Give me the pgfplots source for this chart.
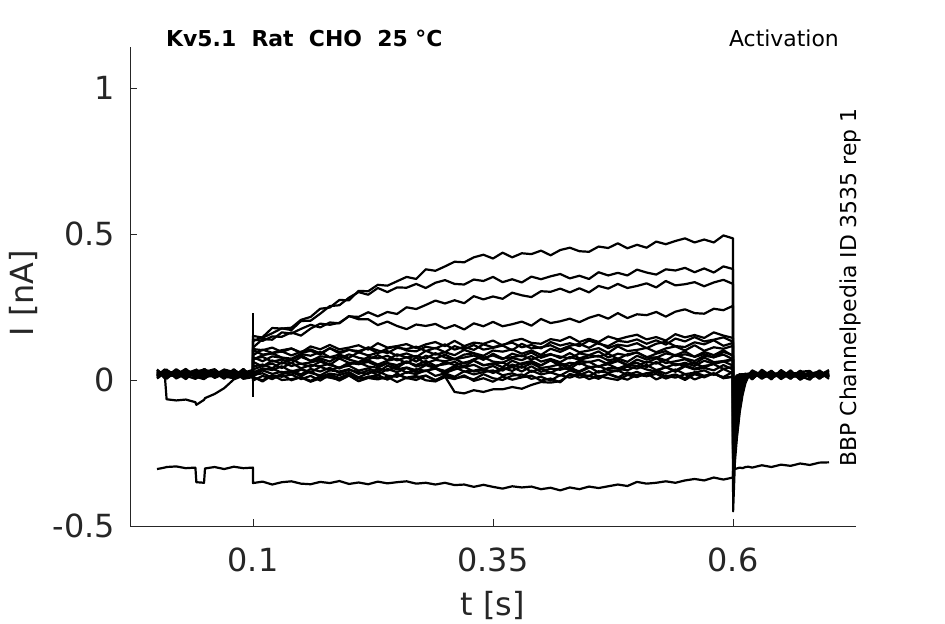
\documentclass[border=0pt]{standalone}
\usepackage{pgfplots}
\pgfplotsset{compat=1.18}
\usepackage{pgfplotstable}
\usepackage{fontspec}
\setmainfont{DejaVu Sans}
\definecolor{axgray}{HTML}{262626}

\pgfplotstableread{
t A B C D E F G H I J K L M N O P Q R V W X
0      0.025 0.018 0.022 0.030 0.015 0.027 0.020 0.012 0.028 0.019 0.024 0.016 0.021 0.020 -0.305 0.008 0.034 0.014 0.030 0.005 0.036
0.008  0.020 0.026 0.015 0.022 0.029 0.018 0.024 0.030 0.017 0.023 0.013 0.027 0.019 0.022 -0.300 0.031 0.006 0.036 0.010 0.024 0.013
0.01   0.028 0.015 0.024 0.018 0.022 0.031 0.014 0.020 0.025 0.012 0.026 0.021 0.017 -0.066 -0.298 0.036 0.011 0.027 0.004 0.033 0.007
0.02   0.017 0.024 0.029 0.013 0.020 0.016 0.027 0.023 0.014 0.030 0.018 0.011 0.025 -0.070 -0.296 0.005 0.037 0.009 0.033 0.018 0.025
0.03   0.024 0.012 0.019 0.027 0.016 0.023 0.018 0.029 0.021 0.015 0.028 0.020 0.013 -0.067 -0.302 0.022 0.015 0.035 0.006 0.038 0.003
0.04   0.015 0.027 0.021 0.020 0.028 0.012 0.025 0.016 0.026 0.022 0.014 0.029 0.018 -0.076 -0.300 0.034 0.004 0.019 0.029 0.008 0.032
0.041  0.022 0.019 0.026 0.014 0.021 0.025 0.017 0.024 0.013 0.027 0.020 0.016 0.023 -0.085 -0.350 0.010 0.030 0.005 0.036 0.022 0.014
0.049  0.027 0.014 0.018 0.025 0.013 0.020 0.029 0.015 0.022 0.018 0.025 0.012 0.028 -0.068 -0.352 0.003 0.035 0.032 0.012 0.037 0.006
0.05   0.019 0.023 0.027 0.016 0.024 0.014 0.021 0.028 0.019 0.013 0.022 0.026 0.015 -0.062 -0.303 0.028 0.009 0.037 0.005 0.016 0.034
0.06   0.013 0.028 0.016 0.023 0.019 0.027 0.012 0.022 0.029 0.024 0.017 0.021 0.026 -0.048 -0.298 0.037 0.018 0.007 0.031 0.011 0.026
0.07   0.026 0.017 0.022 0.029 0.014 0.021 0.025 0.013 0.018 0.027 0.023 0.015 0.020 -0.028 -0.305 0.012 0.036 0.021 0.009 0.032 0.004
0.08   0.018 0.025 0.013 0.020 0.027 0.016 0.019 0.026 0.023 0.015 0.029 0.022 0.014 0.002 -0.297 0.006 0.027 0.034 0.013 0.003 0.037
0.09   0.023 0.013 0.028 0.015 0.021 0.024 0.027 0.018 0.012 0.020 0.016 0.028 0.025 0.015 -0.302 0.033 0.004 0.017 0.038 0.024 0.009
0.0999 0.020 0.022 0.017 0.026 0.018 0.013 0.022 0.025 0.027 0.016 0.021 0.019 0.023 0.015 -0.300 0.021 0.010 0.030 0.006 0.035 0.019
0.10 0.133 0.151 0.139 0.111 0.106 0.102 0.069 0.073 0.062 0.036 0.025 0.012 0.008 0.011 -0.353 -0.002 0.017 0.020 0.046 0.078 0.085
0.11 0.147 0.145 0.134 0.140 0.102 0.087 0.085 0.079 0.046 0.048 0.040 0.033 -0.001 -0.005 -0.348 0.014 0.023 0.035 0.053 0.064 0.104
0.12 0.178 0.160 0.149 0.138 0.111 0.091 0.091 0.063 0.067 0.056 0.034 0.021 0.016 0.016 -0.358 0.003 0.008 0.039 0.040 0.081 0.093
0.13 0.176 0.177 0.148 0.163 0.096 0.098 0.077 0.070 0.056 0.041 0.047 0.028 0.011 0.000 -0.350 0.019 0.020 0.025 0.061 0.076 0.102
0.14 0.179 0.171 0.163 0.159 0.108 0.084 0.073 0.058 0.071 0.059 0.029 0.018 0.019 0.003 -0.347 -0.001 0.028 0.032 0.048 0.069 0.108
0.15 0.206 0.202 0.152 0.175 0.094 0.097 0.089 0.079 0.055 0.040 0.038 0.036 0.003 0.009 -0.355 0.010 0.013 0.019 0.056 0.085 0.092
0.16 0.216 0.203 0.176 0.189 0.115 0.105 0.083 0.066 0.060 0.051 0.026 0.024 0.014 -0.006 -0.357 -0.003 0.030 0.038 0.045 0.065 0.100
0.17 0.244 0.227 0.193 0.180 0.105 0.091 0.096 0.074 0.068 0.047 0.045 0.016 -0.002 0.006 -0.349 0.013 0.011 0.029 0.063 0.081 0.087
0.18 0.248 0.253 0.189 0.197 0.120 0.109 0.078 0.063 0.052 0.056 0.034 0.033 0.018 0.013 -0.353 0.008 0.022 0.042 0.051 0.078 0.109
0.19 0.274 0.256 0.196 0.194 0.105 0.091 0.087 0.082 0.074 0.039 0.043 0.029 0.007 -0.002 -0.346 0.001 0.017 0.024 0.042 0.073 0.096
0.20 0.273 0.282 0.218 0.219 0.111 0.103 0.076 0.070 0.058 0.054 0.049 0.037 0.021 0.015 -0.356 0.017 0.027 0.035 0.059 0.088 0.104
0.21 0.305 0.301 0.216 0.208 0.119 0.099 0.095 0.061 0.061 0.060 0.032 0.021 0.005 -0.004 -0.351 -0.004 0.009 0.027 0.054 0.076 0.094
0.22 0.304 0.292 0.232 0.208 0.104 0.109 0.084 0.079 0.068 0.046 0.040 0.033 0.010 0.007 -0.357 0.012 0.024 0.021 0.062 0.070 0.112
0.23 0.326 0.315 0.218 0.188 0.126 0.092 0.093 0.074 0.053 0.042 0.027 0.017 0.017 0.002 -0.348 0.009 0.030 0.039 0.047 0.085 0.101
0.24 0.323 0.301 0.233 0.200 0.111 0.108 0.099 0.083 0.066 0.058 0.049 0.038 0.001 0.011 -0.354 0.003 0.015 0.032 0.058 0.068 0.092
0.25 0.338 0.317 0.226 0.185 0.116 0.115 0.083 0.067 0.073 0.051 0.036 0.027 0.022 -0.007 -0.350 0.019 0.011 0.045 0.042 0.088 0.110
0.26 0.353 0.316 0.249 0.174 0.123 0.101 0.091 0.078 0.058 0.064 0.043 0.041 0.006 0.008 -0.347 0.007 0.027 0.024 0.062 0.077 0.106
0.27 0.346 0.329 0.243 0.190 0.109 0.098 0.078 0.063 0.076 0.046 0.033 0.026 0.009 0.014 -0.355 0.000 0.020 0.037 0.051 0.082 0.114
0.28 0.379 0.315 0.257 0.185 0.122 0.114 0.100 0.083 0.057 0.055 0.051 0.031 0.015 -0.001 -0.352 0.015 0.033 0.031 0.065 0.073 0.099
0.29 0.374 0.333 0.272 0.192 0.130 0.108 0.087 0.073 0.069 0.044 0.040 0.039 0.000 -0.005 -0.358 -0.002 0.014 0.042 0.049 0.092 0.110
0.30 0.389 0.342 0.262 0.176 0.116 0.122 0.095 0.087 0.064 0.062 0.031 0.023 0.012 0.010 -0.352 0.017 0.023 0.024 0.054 0.077 0.095
0.31 0.405 0.329 0.273 0.188 0.134 0.104 0.085 0.071 0.073 0.051 0.048 0.044 -0.041 0.003 -0.360 0.006 0.011 0.036 0.062 0.071 0.116
0.32 0.403 0.327 0.263 0.173 0.116 0.114 0.103 0.077 0.056 0.060 0.044 0.029 -0.046 0.016 -0.358 0.011 0.030 0.045 0.046 0.087 0.105
0.33 0.420 0.344 0.287 0.194 0.128 0.103 0.092 0.084 0.071 0.066 0.052 0.032 -0.035 -0.003 -0.366 0.002 0.019 0.029 0.067 0.091 0.120
0.34 0.429 0.339 0.276 0.184 0.124 0.122 0.083 0.069 0.078 0.050 0.037 0.039 -0.041 0.006 -0.359 0.020 0.027 0.034 0.051 0.076 0.104
0.35 0.416 0.353 0.286 0.199 0.135 0.112 0.101 0.090 0.063 0.057 0.048 0.024 -0.032 -0.006 -0.366 0.006 0.033 0.026 0.054 0.084 0.110
0.36 0.436 0.335 0.278 0.184 0.118 0.121 0.097 0.074 0.059 0.044 0.032 0.036 -0.032 0.012 -0.372 0.000 0.016 0.042 0.060 0.071 0.118
0.37 0.420 0.345 0.299 0.191 0.134 0.128 0.105 0.078 0.075 0.066 0.053 0.044 -0.024 0.001 -0.364 0.015 0.023 0.031 0.045 0.090 0.102
0.38 0.434 0.334 0.290 0.200 0.141 0.112 0.090 0.084 0.068 0.053 0.042 0.029 -0.030 0.009 -0.368 0.019 0.011 0.048 0.057 0.081 0.124
0.39 0.431 0.354 0.284 0.186 0.127 0.120 0.101 0.070 0.082 0.061 0.057 0.047 -0.017 0.015 -0.365 0.004 0.032 0.028 0.065 0.094 0.108
0.40 0.443 0.345 0.304 0.209 0.124 0.108 0.086 0.082 0.063 0.050 0.041 0.028 -0.007 -0.002 -0.374 0.011 0.019 0.039 0.050 0.076 0.112
0.41 0.427 0.355 0.302 0.195 0.140 0.130 0.107 0.089 0.072 0.068 0.046 0.039 -0.009 0.005 -0.369 -0.002 0.026 0.025 0.067 0.087 0.119
0.42 0.445 0.363 0.313 0.201 0.134 0.118 0.096 0.075 0.061 0.057 0.054 0.035 -0.004 -0.008 -0.378 0.017 0.015 0.041 0.048 0.080 0.104
0.43 0.453 0.348 0.300 0.210 0.148 0.126 0.111 0.092 0.079 0.048 0.038 0.044 0.018 0.021 -0.368 0.008 0.033 0.037 0.059 0.074 0.117
0.44 0.441 0.357 0.314 0.198 0.130 0.116 0.095 0.074 0.069 0.066 0.060 0.027 0.017 0.008 -0.374 0.020 0.021 0.030 0.054 0.091 0.124
0.45 0.439 0.346 0.300 0.213 0.141 0.135 0.101 0.085 0.077 0.061 0.044 0.042 0.030 0.015 -0.365 0.003 0.013 0.046 0.063 0.085 0.110
0.46 0.457 0.369 0.322 0.223 0.130 0.124 0.109 0.080 0.083 0.069 0.047 0.048 0.011 0.004 -0.370 0.014 0.030 0.025 0.045 0.098 0.128
0.47 0.452 0.358 0.313 0.210 0.149 0.116 0.093 0.090 0.067 0.054 0.054 0.034 0.020 0.022 -0.364 0.006 0.025 0.041 0.060 0.077 0.109
0.48 0.468 0.367 0.329 0.229 0.139 0.134 0.115 0.072 0.074 0.065 0.039 0.030 0.008 0.010 -0.358 0.000 0.033 0.039 0.067 0.090 0.121
0.49 0.451 0.358 0.315 0.212 0.148 0.130 0.099 0.088 0.062 0.050 0.052 0.046 0.026 0.001 -0.363 0.017 0.017 0.033 0.052 0.084 0.116
0.50 0.463 0.378 0.322 0.225 0.155 0.139 0.103 0.094 0.083 0.070 0.059 0.039 0.015 0.018 -0.349 0.010 0.028 0.048 0.048 0.095 0.126
0.51 0.453 0.368 0.331 0.222 0.139 0.124 0.110 0.079 0.070 0.059 0.044 0.052 0.023 0.013 -0.355 0.023 0.013 0.036 0.063 0.077 0.109
0.52 0.474 0.361 0.317 0.233 0.147 0.136 0.095 0.076 0.078 0.074 0.062 0.034 0.029 0.021 -0.352 0.002 0.033 0.029 0.056 0.090 0.124
0.53 0.465 0.379 0.339 0.217 0.135 0.121 0.108 0.091 0.067 0.058 0.043 0.043 0.012 0.005 -0.347 0.015 0.022 0.045 0.069 0.099 0.131
0.54 0.476 0.375 0.324 0.234 0.157 0.142 0.115 0.085 0.086 0.064 0.055 0.032 0.019 0.016 -0.352 0.008 0.036 0.028 0.050 0.082 0.116
0.55 0.485 0.384 0.328 0.242 0.146 0.132 0.101 0.098 0.074 0.071 0.050 0.050 0.006 0.000 -0.344 0.020 0.020 0.047 0.059 0.088 0.113
0.56 0.471 0.369 0.335 0.229 0.154 0.147 0.119 0.079 0.065 0.055 0.059 0.039 0.027 0.020 -0.339 0.002 0.025 0.036 0.048 0.080 0.129
0.57 0.481 0.382 0.321 0.227 0.144 0.132 0.100 0.089 0.083 0.077 0.042 0.048 0.014 0.009 -0.344 0.014 0.033 0.041 0.066 0.096 0.122
0.58 0.471 0.368 0.334 0.244 0.163 0.138 0.112 0.077 0.078 0.061 0.057 0.054 0.021 0.023 -0.334 0.023 0.017 0.033 0.055 0.085 0.136
0.59 0.495 0.389 0.343 0.239 0.152 0.146 0.107 0.096 0.087 0.065 0.064 0.038 0.010 0.007 -0.341 0.006 0.038 0.051 0.063 0.102 0.117
0.60 0.485 0.380 0.329 0.254 0.144 0.131 0.117 0.085 0.071 0.071 0.049 0.045 0.028 0.012 -0.334 0.011 0.022 0.036 0.069 0.082 0.127
0.6001 -0.450 -0.300 -0.280 -0.260 -0.220 -0.200 -0.170 -0.140 -0.110 -0.090 -0.070 -0.050 -0.030 -0.020 -0.310 -0.010 -0.060 -0.120 -0.180 -0.240 -0.300
0.602 -0.280 -0.250 -0.220 -0.190 -0.150 -0.120 -0.090 -0.070 -0.050 -0.035 -0.020 -0.010 0.000 0.006 -0.305 0.004 -0.020 -0.060 -0.110 -0.170 -0.220
0.604 -0.200 -0.190 -0.160 -0.130 -0.090 -0.070 -0.050 -0.030 -0.015 -0.005 0.004 0.010 0.014 0.016 -0.303 0.012 0.002 -0.025 -0.060 -0.110 -0.150
0.607 -0.110 -0.100 -0.080 -0.060 -0.035 -0.020 -0.010 0.000 0.008 0.012 0.016 0.018 0.020 0.014 -0.300 0.008 0.014 0.002 -0.020 -0.050 -0.075
0.61 -0.050 -0.040 -0.025 -0.015 0.000 0.008 0.012 0.015 0.018 0.020 0.014 0.020 0.016 0.020 -0.302 0.016 0.020 0.015 0.004 -0.012 -0.025
0.613 -0.010 -0.005 0.005 0.010 0.015 0.018 0.020 0.014 0.020 0.015 0.020 0.012 0.018 0.016 -0.298 0.022 0.012 0.021 0.016 0.008 0.003
0.616 0.012 0.015 0.018 0.014 0.020 0.012 0.016 0.020 0.013 0.018 0.022 0.011 0.019 0.016 -0.297 0.010 0.019 0.014 0.021 0.017 0.015
0.62 0.018 0.012 0.022 0.009 0.025 0.014 0.020 0.016 0.011 0.023 0.017 0.013 0.021 0.010 -0.300 0.030 0.003 0.027 0.008 0.033 0.002
0.63 0.012 0.021 0.015 0.024 0.010 0.019 0.013 0.022 0.018 0.008 0.024 0.019 0.014 0.023 -0.292 0.004 0.031 0.010 0.026 0.016 0.035
0.64 0.023 0.010 0.019 0.014 0.021 0.011 0.024 0.009 0.020 0.016 0.012 0.025 0.017 0.013 -0.298 0.026 0.008 0.032 0.002 0.029 0.013
0.65 0.014 0.024 0.011 0.020 0.015 0.023 0.010 0.018 0.025 0.013 0.021 0.009 0.022 0.016 -0.290 0.009 0.029 0.003 0.034 0.006 0.024
0.66 0.020 0.015 0.025 0.012 0.018 0.009 0.021 0.024 0.012 0.022 0.015 0.018 0.010 0.024 -0.294 0.033 0.005 0.024 0.012 0.028 0.004
0.67 0.011 0.022 0.013 0.023 0.010 0.020 0.016 0.011 0.019 0.025 0.010 0.022 0.016 0.012 -0.286 0.002 0.032 0.013 0.028 0.001 0.031
0.68 0.024 0.013 0.020 0.016 0.023 0.015 0.025 0.019 0.014 0.011 0.023 0.014 0.024 0.018 -0.291 0.028 0.010 0.001 0.031 0.020 0.008
0.69 0.015 0.019 0.010 0.022 0.013 0.024 0.012 0.021 0.023 0.017 0.013 0.020 0.011 0.021 -0.283 0.006 0.027 0.033 0.004 0.030 0.017
0.70 0.021 0.011 0.018 0.015 0.020 0.012 0.019 0.014 0.016 0.022 0.018 0.010 0.019 0.015 -0.282 0.024 0.004 0.009 0.030 0.011 0.034
}\traces

\begin{document}
\begin{tikzpicture}[x=1bp,y=1bp]
\useasboundingbox (0,0) rectangle (945,624);
\begin{axis}[
  at={(130bp,98bp)}, anchor=south west,
  scale only axis, width=726bp, height=479bp,
  xmin=-0.028125, xmax=0.728125, ymin=-0.5, ymax=1.1404,
  axis x line*=bottom, axis y line*=left,
  axis line style={-, draw=axgray, line width=0.9bp},
  every outer x axis line/.append style={-},
  every outer y axis line/.append style={-},
  xtick={0.1,0.35,0.6}, xticklabels={0.1,0.35,0.6},
  ytick={-0.5,0,0.5,1}, yticklabels={-0.5,0,0.5,1},
  tick style={draw=axgray, line width=0.9bp},
  tick align=inside, major tick length=7bp,
  xticklabel style={font=\fontsize{32}{32}\selectfont, text=axgray, anchor=base, inner sep=0pt, yshift=-46bp},
  yticklabel style={font=\fontsize{32}{32}\selectfont, text=axgray, anchor=east, inner sep=0pt, xshift=-15bp},
  clip=false,
]
\pgfplotsinvokeforeach{A,B,C,D,E,F,G,H,I,J,K,L,M,N,O,P,Q,R,V,W,X}{
  \addplot[black, line width=2.2bp, line join=round] table[x=t, y=#1]{\traces};
}
\addplot[black, line width=2.2bp] coordinates {(0.1,-0.058) (0.1,0.228)};
\end{axis}
\node[font=\fontsize{32}{32}\selectfont, text=axgray, inner sep=0pt] at (492.5,18.5) {t [s]};
\node[font=\fontsize{32}{32}\selectfont, text=axgray, inner sep=0pt, rotate=90] at (23,331) {I [nA]};
\node[anchor=base west, inner sep=0pt, font=\fontsize{22}{22}\selectfont\bfseries] at (166,577) {Kv5.1\ \ Rat\ \ CHO\ \ 25~°C};
\node[anchor=base east, inner sep=0pt, font=\fontsize{22}{22}\selectfont] at (839,577) {Activation};
\node[anchor=base, rotate=90, inner sep=0pt, font=\fontsize{22}{22}\selectfont] at (856,336.5) {BBP Channelpedia ID 3535 rep 1};
\end{tikzpicture}
\end{document}
